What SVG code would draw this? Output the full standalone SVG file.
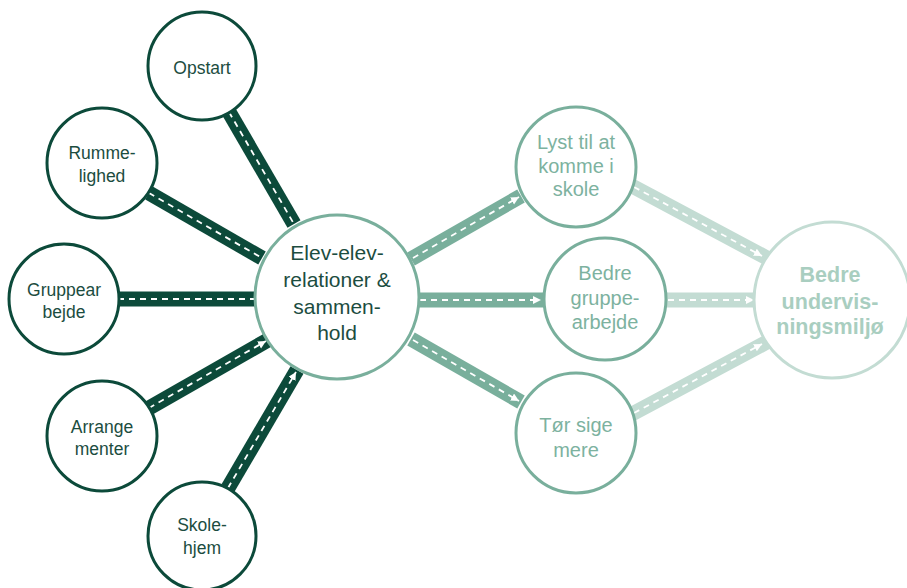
<svg xmlns="http://www.w3.org/2000/svg" width="907" height="588" viewBox="0 0 907 588">
<style>
.dk{fill:#fff;stroke:#0c4a3a;stroke-width:3}
.md{fill:#fff;stroke:#79af9c;stroke-width:3}
.lt{fill:#fff;stroke:#c3dcd3;stroke-width:3}
.bd{stroke-width:15;fill:none}
.bdk{stroke:#0c4a3a}
.bmd{stroke:#79af9c}
.blt{stroke:#c3dcd3}
.ds{stroke:#fff;stroke-width:1.8;stroke-dasharray:6 5;fill:none}
.t{font-family:"Liberation Sans",Arial,sans-serif;text-anchor:middle}
.tdk{fill:#1c4d3f;font-size:17.5px}
.tc{fill:#1c4d3f;font-size:21px}
.tmd{fill:#7db29f;font-size:20px}
.tlt{fill:#a9cec0;font-size:21.5px;font-weight:bold}
</style>
<defs>
<marker id="ah" markerWidth="10" markerHeight="10" refX="8" refY="4" orient="auto" markerUnits="userSpaceOnUse">
<path d="M0,0 L8,4 L0,8 Z" fill="#fff"/>
</marker>
</defs>
<g id="connectors">
<line class="bd bdk" x1="229" y1="112" x2="294" y2="224"/>
<line class="ds" x1="229" y1="112" x2="294" y2="224"/>
<line class="bd bdk" x1="149" y1="193" x2="262" y2="258"/>
<line class="ds" x1="149" y1="193" x2="262" y2="258"/>
<line class="bd bdk" x1="118" y1="299" x2="256" y2="299"/>
<line class="ds" x1="118" y1="299" x2="256" y2="299"/>
<line class="bd bdk" x1="149" y1="408" x2="268" y2="340"/>
<line class="ds" x1="149" y1="408" x2="266" y2="341" marker-end="url(#ah)"/>
<line class="bd bdk" x1="228" y1="488" x2="297" y2="370"/>
<line class="ds" x1="228" y1="488" x2="296" y2="372" marker-end="url(#ah)"/>
<line class="bd bmd" x1="411" y1="259" x2="521" y2="196"/>
<line class="ds" x1="413" y1="258" x2="519" y2="197" marker-end="url(#ah)"/>
<line class="bd bmd" x1="418" y1="300" x2="544" y2="300"/>
<line class="ds" x1="420" y1="300" x2="541" y2="300" marker-end="url(#ah)"/>
<line class="bd bmd" x1="411" y1="339" x2="521" y2="402"/>
<line class="ds" x1="413" y1="340" x2="519" y2="401" marker-end="url(#ah)"/>
<line class="bd blt" x1="632" y1="186" x2="767" y2="258"/>
<line class="ds" x1="634" y1="187" x2="762" y2="256" marker-end="url(#ah)"/>
<line class="bd blt" x1="666" y1="300" x2="756" y2="300"/>
<line class="ds" x1="668" y1="300" x2="754" y2="300" marker-end="url(#ah)"/>
<line class="bd blt" x1="632" y1="414" x2="767" y2="342"/>
<line class="ds" x1="634" y1="413" x2="762" y2="344" marker-end="url(#ah)"/>
</g>
<g id="opstart"><circle class="dk" cx="202" cy="66" r="54"/><text class="t tdk" x="202" y="74">Opstart</text></g>
<g id="rummelighed"><circle class="dk" cx="102" cy="163" r="55"/><text class="t tdk" x="102" y="159">Rumme-</text><text class="t tdk" x="102" y="182">lighed</text></g>
<g id="gruppearbejde"><circle class="dk" cx="64" cy="299" r="55"/><text class="t tdk" x="64" y="296">Gruppear</text><text class="t tdk" x="64" y="318">bejde</text></g>
<g id="arrangementer"><circle class="dk" cx="102" cy="436" r="55"/><text class="t tdk" x="102" y="433">Arrange</text><text class="t tdk" x="102" y="455">menter</text></g>
<g id="skolehjem"><circle class="dk" cx="202" cy="536" r="54"/><text class="t tdk" x="202" y="531">Skole-</text><text class="t tdk" x="202" y="554">hjem</text></g>
<g id="center"><circle class="md" cx="337" cy="297" r="82"/>
<text class="t tc" x="337" y="260">Elev-elev-</text><text class="t tc" x="337" y="287">relationer &amp;</text><text class="t tc" x="337" y="314">sammen-</text><text class="t tc" x="337" y="340">hold</text></g>
<g id="lyst"><circle class="md" cx="576" cy="167" r="60"/><text class="t tmd" x="576" y="149">Lyst til at</text><text class="t tmd" x="576" y="173">komme i</text><text class="t tmd" x="576" y="196">skole</text></g>
<g id="gruppe"><circle class="md" cx="605" cy="299" r="61"/><text class="t tmd" x="605" y="280">Bedre</text><text class="t tmd" x="605" y="305">gruppe-</text><text class="t tmd" x="605" y="329">arbejde</text></g>
<g id="toer"><circle class="md" cx="576" cy="433" r="60"/><text class="t tmd" x="576" y="432">Tør sige</text><text class="t tmd" x="576" y="457">mere</text></g>
<g id="miljoe"><circle class="lt" cx="832" cy="300" r="78"/><text class="t tlt" x="830" y="282">Bedre</text><text class="t tlt" x="830" y="309">undervis-</text><text class="t tlt" x="830" y="334">ningsmiljø</text></g>
</svg>
